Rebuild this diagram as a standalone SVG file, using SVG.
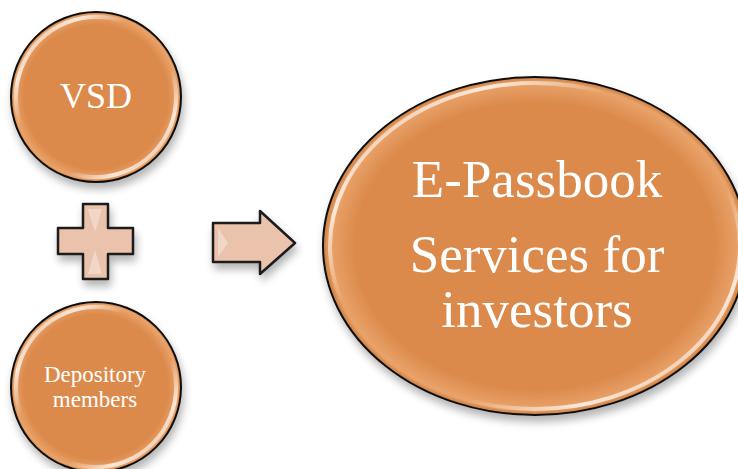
<svg xmlns="http://www.w3.org/2000/svg" width="738" height="469" viewBox="0 0 738 469">
<defs>
<style>
.ball{fill:#DC8A4C;stroke:#111;stroke-width:2}
.gloss{fill:none;stroke:url(#gl);stroke-width:4;opacity:0.85}
.lbl{font-family:"Liberation Serif","Times New Roman",serif;fill:#fff;text-anchor:middle}
.shape{fill:#EBC2AC;stroke:#1a1a1a;stroke-width:2.5;stroke-linejoin:round}
</style>
<radialGradient id="rg" cx="0.5" cy="0.5" r="0.5">
<stop offset="0.85" stop-color="#DC8A4C"/>
<stop offset="0.97" stop-color="#E9A36A"/>
<stop offset="1" stop-color="#C97A3C"/>
</radialGradient>
<linearGradient id="gl" x1="0" y1="0" x2="1" y2="1">
<stop offset="0" stop-color="#fff" stop-opacity="0"/>
<stop offset="0.2" stop-color="#fff" stop-opacity="0.9"/>
<stop offset="0.35" stop-color="#fff" stop-opacity="0"/>
<stop offset="0.65" stop-color="#fff" stop-opacity="0"/>
<stop offset="0.8" stop-color="#fff" stop-opacity="0.9"/>
<stop offset="1" stop-color="#fff" stop-opacity="0"/>
</linearGradient>
<filter id="sh" x="-20%" y="-20%" width="140%" height="150%">
<feGaussianBlur in="SourceAlpha" stdDeviation="4"/>
<feOffset dx="2" dy="6" result="b"/>
<feComponentTransfer><feFuncA type="linear" slope="0.3"/></feComponentTransfer>
<feMerge><feMergeNode/><feMergeNode in="SourceGraphic"/></feMerge>
</filter>
</defs>
<rect width="738" height="469" fill="#fff"/>
<g id="vsd">
<circle cx="96" cy="97" r="85" class="ball" style="fill:url(#rg)" filter="url(#sh)"/>
<circle cx="96" cy="97" r="80" class="gloss"/>
<text x="96" y="108" class="lbl" font-size="36">VSD</text>
</g>
<g id="plus">
<path class="shape" d="M83,204 H108 V228 H133 V254 H108 V279 H83 V254 H58 V228 H83 Z" filter="url(#sh)"/>
<path d="M88,209 L95,232 L102,209 Z M88,274 L95,250 L102,274 Z" fill="#fff" opacity="0.35"/>
</g>
<g id="arrow">
<path class="shape" d="M213,223 H260 V211 L295,243 L260,274 V262 H213 Z" filter="url(#sh)"/>
<path d="M218,228 L228,243 L218,257 Z" fill="#fff" opacity="0.35"/>
</g>
<g id="depository">
<circle cx="96" cy="387" r="85" class="ball" style="fill:url(#rg)" filter="url(#sh)"/>
<circle cx="96" cy="387" r="80" class="gloss"/>
<text x="95" y="382" class="lbl" font-size="23">Depository</text>
<text x="95" y="407" class="lbl" font-size="23">members</text>
</g>
<g id="epassbook">
<ellipse cx="535" cy="246" rx="212" ry="169" class="ball" style="fill:url(#rg)" filter="url(#sh)"/>
<ellipse cx="535" cy="246" rx="205" ry="163" class="gloss"/>
<text x="537" y="197" class="lbl" font-size="53">E-Passbook</text>
<text x="537" y="272" class="lbl" font-size="53">Services for</text>
<text x="537" y="327" class="lbl" font-size="53">investors</text>
</g>
<g id="connectors"/>
</svg>
